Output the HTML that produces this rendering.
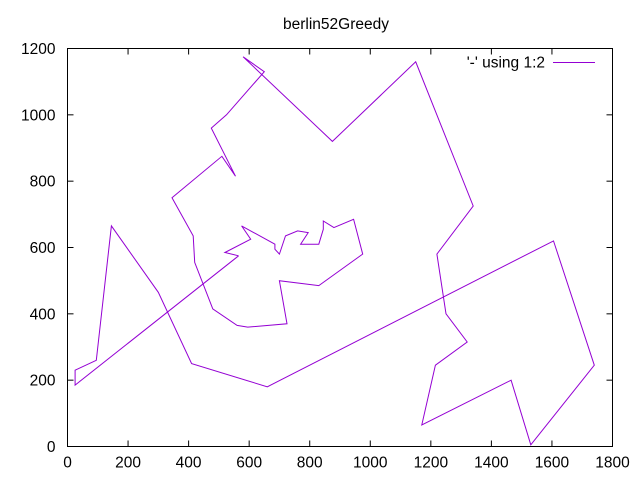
<!DOCTYPE html>
<html><head><meta charset="utf-8"><style>
html,body{margin:0;padding:0;background:#fff;}
svg{display:block;font-family:"Liberation Sans",sans-serif;}
</style></head><body>
<svg id="chart" width="640" height="480">
<text x="336" y="29" text-anchor="middle" font-size="15.5">berlin52Greedy</text>
<g id="axes"></g>
<rect x="67.5" y="48.5" width="545" height="398" fill="none" stroke="#000" stroke-width="1"/>
<text x="545" y="67.5" text-anchor="end" font-size="15.5">'-' using 1:2</text>
<line x1="553" y1="62.5" x2="595" y2="62.5" stroke="#9400d3" stroke-width="1"/>
</svg>
<script>
const xs=[565,520,605,575,685,685,700,720,760,795,770,830,835,845,845,880,945,975,830,700,725,595,560,480,420,415,345,510,555,475,525,650,580,875,1150,1340,1220,1250,1320,1215,1170,1465,1530,1740,1605,660,410,300,145,95,25,25,565];
const ys=[575,585,625,665,610,595,580,635,650,645,610,610,625,655,680,660,685,580,485,500,370,360,365,415,555,635,750,875,815,960,1000,1130,1175,920,1160,725,580,400,315,245,65,200,5,245,620,180,250,465,665,260,230,185,575];
const xTicks=[0,200,400,600,800,1000,1200,1400,1600,1800];
const yTicks=[0,200,400,600,800,1000,1200];
const L=67.5,R=612.5,T=48.5,B=446.5;
const sx=v=>L+v/1800*(R-L), sy=v=>B-v/1200*(B-T);
const NS="http://www.w3.org/2000/svg";
const svg=document.getElementById('chart'), ax=document.getElementById('axes');
function mk(tag,a){const e=document.createElementNS(NS,tag);for(const k in a)e.setAttribute(k,a[k]);return e;}
xTicks.forEach(v=>{
  const x=sx(v);
  const t=mk('line',{x1:x,x2:x,y1:B,y2:B-6,stroke:'#000'});
  
  
  ax.appendChild(t);
  const t2=mk('line',{x1:x,x2:x,y1:T,y2:T+6,stroke:'#000'});
  
  
  ax.appendChild(t2);
  const l=mk('text',{x:x,y:B+21,'text-anchor':'middle','font-size':'15.5'});
  l.textContent=v;
  
  
  ax.appendChild(l);
});
yTicks.forEach(v=>{
  const y=sy(v);
  const t=mk('line',{x1:L,x2:L+6,y1:y,y2:y,stroke:'#000'});
  
  
  ax.appendChild(t);
  const t2=mk('line',{x1:R,x2:R-6,y1:y,y2:y,stroke:'#000'});
  
  
  ax.appendChild(t2);
  const l=mk('text',{x:L-12,y:y+5.5,'text-anchor':'end','font-size':'15.5'});
  l.textContent=v;
  
  
  ax.appendChild(l);
});
const pts=xs.map((x,i)=>sx(x).toFixed(1)+','+sy(ys[i]).toFixed(1)).join(' ');
const pl=mk('polyline',{points:pts,fill:'none',stroke:'#9400d3','stroke-width':'1'});


svg.appendChild(pl);
</script>
</body></html>
